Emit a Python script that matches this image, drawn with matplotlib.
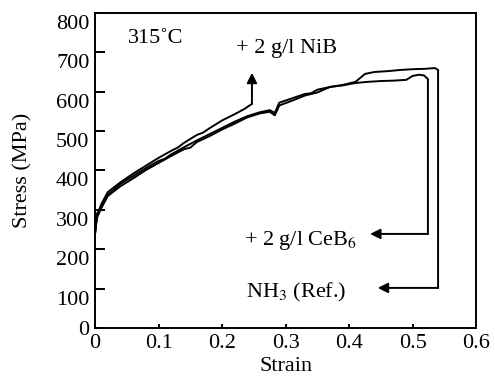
import matplotlib.pyplot as plt
from matplotlib.transforms import ScaledTranslation

plt.rcParams['font.family'] = ['Liberation Serif', 'DejaVu Serif']
plt.rcParams['mathtext.fontset'] = 'stix'

# stress-strain curves (strain, MPa)
nib_strain = [0, 0.003, 0.01, 0.02, 0.04, 0.06, 0.08, 0.1, 0.12, 0.13, 0.14,
              0.16, 0.17, 0.18, 0.2, 0.22, 0.235, 0.247]
nib_stress = [240, 285, 315, 345, 370, 392, 412, 432, 450, 458, 470,
              490, 496, 507, 527, 543, 556, 569]

ceb_strain = [0, 0.003, 0.01, 0.02, 0.04, 0.06, 0.08, 0.1, 0.12, 0.14,
              0.15, 0.16, 0.18, 0.2, 0.22, 0.24, 0.26, 0.275, 0.283, 0.29, 0.31,
              0.33, 0.35, 0.37, 0.39, 0.41, 0.43, 0.45, 0.47, 0.49, 0.5,
              0.51, 0.518, 0.524, 0.524]
ceb_stress = [240, 280, 305, 335, 360, 380, 401, 419, 437, 454,
              458, 472, 487, 504, 519, 535, 545, 549, 540, 565, 577,
              590, 598, 612, 616, 622, 625, 627, 628, 630, 640,
              643, 641, 632, 239]

nh3_strain = [0, 0.003, 0.01, 0.02, 0.04, 0.06, 0.08, 0.1, 0.11, 0.12, 0.14,
              0.16, 0.18, 0.2, 0.22, 0.24, 0.26, 0.275, 0.283, 0.29, 0.31,
              0.33, 0.34, 0.35, 0.37, 0.39, 0.41, 0.425, 0.44, 0.46, 0.48, 0.5,
              0.52, 0.535, 0.54, 0.54]
nh3_stress = [240, 290, 310, 338, 366, 386, 406, 424, 430, 441, 459,
              476, 492, 508, 524, 538, 548, 553, 546, 572, 583,
              594, 596, 605, 612, 617, 625, 645, 650, 652, 655, 657,
              658, 660, 655, 102]

nib_arrow_top = 648
ceb_arrow_end = 0.433
nh3_arrow_end = 0.445

fig = plt.figure(figsize=(4.95, 3.78), dpi=100)
ax = fig.add_axes([0.192, 0.132, 0.770, 0.834])

for s, t in [(nib_strain, nib_stress), (ceb_strain, ceb_stress), (nh3_strain, nh3_stress)]:
    ax.plot(s, t, color='k', lw=1.4, solid_joinstyle='round')

arrow = dict(arrowstyle='-|>', color='k', lw=1.4, mutation_scale=15,
             shrinkA=0, shrinkB=0)
ax.annotate('', xy=(nib_strain[-1], nib_arrow_top),
            xytext=(nib_strain[-1], nib_stress[-1]), arrowprops=arrow)
ax.annotate('', xy=(ceb_arrow_end, ceb_stress[-1]),
            xytext=(ceb_strain[-1], ceb_stress[-1]), arrowprops=arrow)
ax.annotate('', xy=(nh3_arrow_end, nh3_stress[-1]),
            xytext=(nh3_strain[-1], nh3_stress[-1]), arrowprops=arrow)

fs = 16
ax.text(0.052, 735, '315˚C', fontsize=fs, va='center')
ax.text(0.222, 710, '+ 2 g/l NiB', fontsize=fs, va='center')
ax.text(0.235, 222, '+ 2 g/l CeB$_6$', fontsize=fs, va='center')
ax.text(0.238, 90, 'NH$_3$ (Ref.)', fontsize=fs, va='center')

ax.set_xlim(0, 0.6)
ax.set_ylim(0, 800)
ax.set_xticks([0, 0.1, 0.2, 0.3, 0.4, 0.5, 0.6])
ax.set_xticklabels(['0', '0.1', '0.2', '0.3', '0.4', '0.5', '0.6'])
ax.set_yticks(range(0, 801, 100))
ax.tick_params(axis='both', direction='in', labelsize=fs, width=1.4, pad=4)
ax.tick_params(axis='y', length=7)
ax.tick_params(axis='x', length=3)
for sp in ax.spines.values():
    sp.set_linewidth(1.4)

# the original y labels sit a little below their ticks
off = ScaledTranslation(0, -0.09, fig.dpi_scale_trans)
for lab in ax.get_yticklabels()[1:]:
    lab.set_transform(lab.get_transform() + off)

ax.set_xlabel('Strain', fontsize=fs, labelpad=3)
ax.set_ylabel('Stress (MPa)', fontsize=fs, labelpad=17)

fig.savefig('out.png', dpi=100)
